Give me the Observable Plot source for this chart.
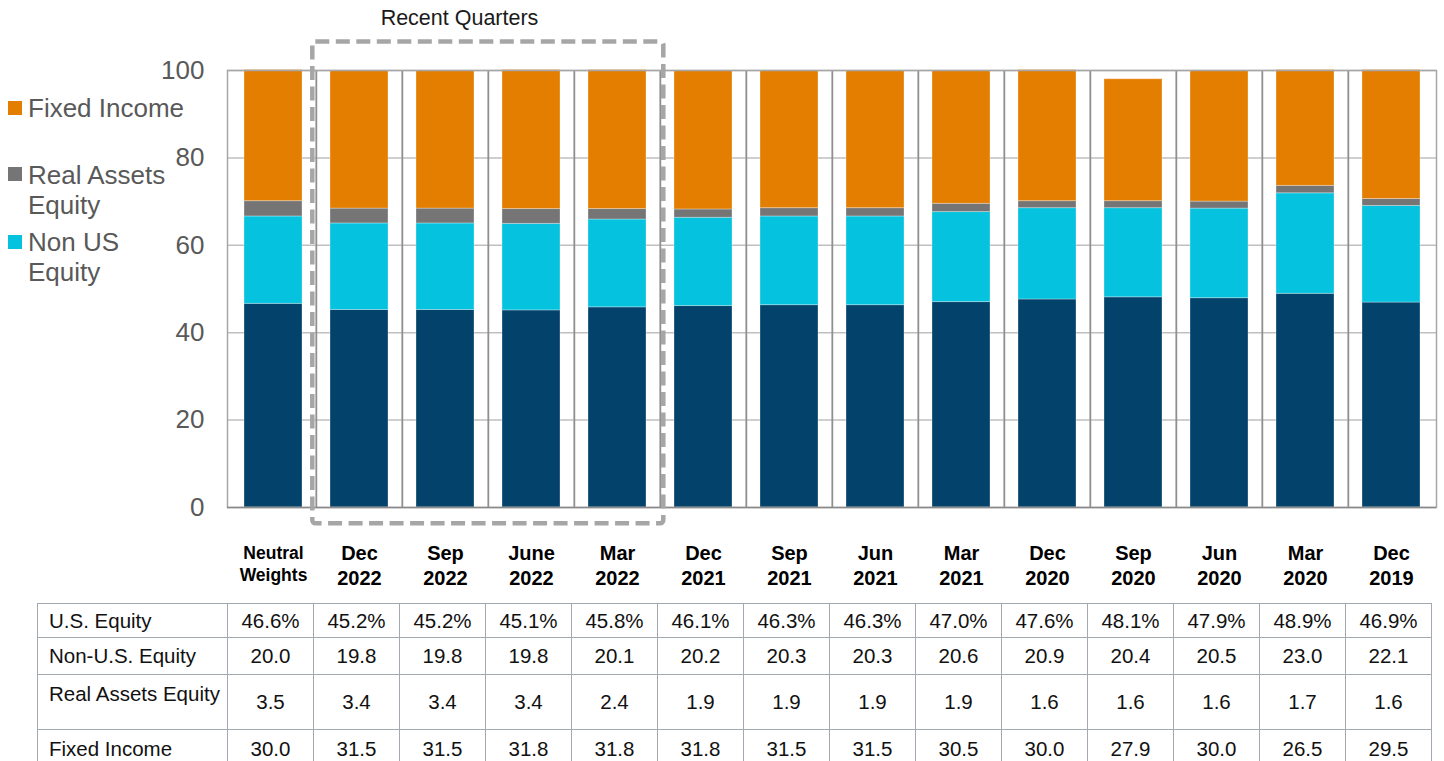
<!DOCTYPE html>
<html><head><meta charset="utf-8">
<script src="https://cdn.jsdelivr.net/npm/d3@7"></script>
<script src="https://cdn.jsdelivr.net/npm/@observablehq/plot@0.6"></script>
<style>
body{margin:0;background:#fff;font-family:"Liberation Sans",Arial,sans-serif;}
#wrap{position:relative;width:1444px;height:761px;overflow:hidden;background:#fff;}
#chart{position:absolute;left:0;top:0;}
.leg{position:absolute;left:0;font-size:26px;line-height:30px;color:#595959;}
.leg .sw{position:absolute;left:8px;width:14px;height:14px;}
.leg .lb{position:absolute;left:28px;top:0;white-space:nowrap;}
#tbl{position:absolute;left:37px;top:603px;border-collapse:collapse;table-layout:fixed;font-size:20.5px;color:#111;}
#tbl td{border:1px solid #a3a9b1;padding:0;text-align:center;vertical-align:middle;white-space:nowrap;overflow:hidden;}
#tbl tr:first-child td{border-top:1.5px solid #666;}
#tbl td.lab{text-align:left;padding-left:11px;}
#tbl td.top{vertical-align:top;padding-top:7px;}
</style>
</head><body>
<div id="wrap">
  <div id="chart"></div>
</div>
<script>
// ---- data ----
const categories = ["Neutral Weights","Dec 2022","Sep 2022","June 2022","Mar 2022","Dec 2021","Sep 2021","Jun 2021","Mar 2021","Dec 2020","Sep 2020","Jun 2020","Mar 2020","Dec 2019"];
const seriesNames = ["U.S. Equity","Non-U.S. Equity","Real Assets Equity","Fixed Income"];
const seriesColors = ["#03436B","#05C3DE","#757575","#E37E00"];
const usEquity    = [46.6,45.2,45.2,45.1,45.8,46.1,46.3,46.3,47.0,47.6,48.1,47.9,48.9,46.9];
const nonUsEquity = [20.0,19.8,19.8,19.8,20.1,20.2,20.3,20.3,20.6,20.9,20.4,20.5,23.0,22.1];
const realAssets  = [3.5,3.4,3.4,3.4,2.4,1.9,1.9,1.9,1.9,1.6,1.6,1.6,1.7,1.6];
const fixedIncome = [30.0,31.5,31.5,31.8,31.8,31.8,31.5,31.5,30.5,30.0,27.9,30.0,26.5,29.5];
const yTicks = [0,20,40,60,80,100];
const legendItems = [
  {name:"Fixed Income", lines:["Fixed Income"], color:"#E37E00", top:93, sw:8},
  {name:"Real Assets Equity", lines:["Real Assets","Equity"], color:"#757575", top:160, sw:7},
  {name:"Non US Equity", lines:["Non US","Equity"], color:"#05C3DE", top:227, sw:8}
];
const tableRows = [
  {label:"U.S. Equity", values:usEquity, fmt:v=>v.toFixed(1)+"%", h:34},
  {label:"Non-U.S. Equity", values:nonUsEquity, fmt:v=>v.toFixed(1), h:37},
  {label:"Real Assets Equity", values:realAssets, fmt:v=>v.toFixed(1), h:55, labTop:true},
  {label:"Fixed Income", values:fixedIncome, fmt:v=>v.toFixed(1), h:38}
];
const recentGroup = ["Dec 2022","Sep 2022","June 2022","Mar 2022"];

// ---- layout ----
const W = 1444, H = 600, mL = 227, mR = 8, mT = 70, mB = H - 507;
const n = categories.length;
const step = (W - mL - mR) / n;
const padIn = 0.33, padOut = padIn / 2;
const seriesValues = [usEquity, nonUsEquity, realAssets, fixedIncome];
const long = categories.flatMap((c, i) => seriesNames.map((s, j) => ({cat: c, series: s, value: seriesValues[j][i]})));
const font = '"Liberation Sans", Arial, sans-serif';

const plot = Plot.plot({
  width: W, height: H,
  marginLeft: mL, marginRight: mR, marginTop: mT, marginBottom: mB,
  style: {fontFamily: font, background: "transparent", overflow: "visible"},
  x: {type: "band", domain: categories, paddingInner: padIn, paddingOuter: padOut, axis: null},
  y: {domain: [0, 100], axis: null},
  color: {domain: seriesNames, range: seriesColors},
  marks: [
    Plot.ruleY(yTicks.filter(d => d > 0), {stroke: "#bfbfbf", strokeWidth: 1.5}),
    Plot.barY(long, {x: "cat", y: "value", fill: "series", order: seriesNames, stroke: "#ffffff", strokeOpacity: 0.3, strokeWidth: 1}),
    Plot.ruleX(categories.slice(1), {x: d => d, dx: -step / 2, stroke: "#8f8f8f", strokeWidth: 1.8}),
    Plot.frame({stroke: "#a6a6a6", strokeWidth: 1.5}),
    Plot.ruleY([0], {stroke: "#8a8a8a", strokeWidth: 1.5}),
    Plot.axisY(yTicks, {tickSize: 0, tickPadding: 23, fontSize: 26, fill: "#595959", label: null}),
    Plot.text(categories.slice(0, 1), {x: d => d, text: d => d.replace(" ", "\n"), frameAnchor: "bottom", lineAnchor: "middle", dy: 55, fontSize: 17.5, fontWeight: "bold", fill: "#000", lineHeight: 1.26}),
    Plot.text(categories.slice(1), {x: d => d, text: d => d.replace(" ", "\n"), frameAnchor: "bottom", lineAnchor: "middle", dy: 57, fontSize: 20, fontWeight: "bold", fill: "#000", lineHeight: 1.25}),
    Plot.text(["Sep 2022"], {x: d => d, text: () => "Recent Quarters", frameAnchor: "top", lineAnchor: "middle", dy: -52, dx: 14, fontSize: 21.5, fill: "#1a1a1a"})
  ]
});
document.getElementById("chart").appendChild(plot);

// dashed "Recent Quarters" box, positioned with the plot's own scales
const xs = plot.scale("x"), ys = plot.scale("y");
const cellStart = c => xs.apply(c) - padOut * xs.step;
const bx0 = cellStart(recentGroup[0]) - 3.5;
const bx1 = cellStart(recentGroup[recentGroup.length - 1]) + xs.step + 3.5;
const by0 = ys.apply(106.5), by1 = ys.apply(-3.7);
d3.select(plot).append("rect")
  .attr("x", bx0).attr("y", by0).attr("width", bx1 - bx0).attr("height", by1 - by0)
  .attr("rx", 3).attr("fill", "none").attr("stroke", "#a6a6a6")
  .attr("stroke-width", 4.5).attr("stroke-dasharray", "14,6.5");

// legend
const wrap = document.getElementById("wrap");
legendItems.forEach(it => {
  const d = document.createElement("div");
  d.className = "leg"; d.style.top = it.top + "px";
  d.innerHTML = `<div class="sw" style="top:${it.sw}px;background:${it.color}"></div><div class="lb">${it.lines.join("<br>")}</div>`;
  wrap.appendChild(d);
});

// table aligned with the x scale
const tbl = document.createElement("table");
tbl.id = "tbl";
const cg = document.createElement("colgroup");
const labW = xs.range[0] - 37;
cg.innerHTML = `<col style="width:${labW}px">` + categories.map(() => `<col style="width:${xs.step}px">`).join("");
tbl.appendChild(cg);
tbl.style.width = (labW + xs.step * n) + "px";
tableRows.forEach(r => {
  const tr = document.createElement("tr");
  tr.style.height = r.h + "px";
  tr.innerHTML = `<td class="lab${r.labTop ? " top" : ""}">${r.label}</td>` + r.values.map(v => `<td>${r.fmt(v)}</td>`).join("");
  tbl.appendChild(tr);
});
wrap.appendChild(tbl);
</script>
</body></html>
